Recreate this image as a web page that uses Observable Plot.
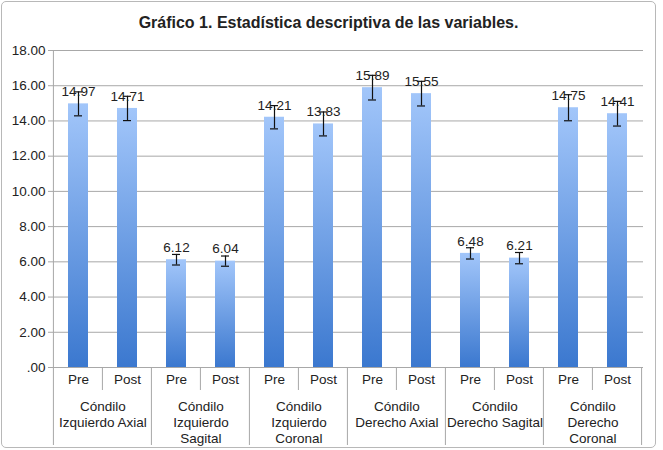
<!DOCTYPE html>
<html>
<head>
<meta charset="utf-8">
<script src="https://cdn.jsdelivr.net/npm/d3@7"></script>
<script src="https://cdn.jsdelivr.net/npm/@observablehq/plot@0.6"></script>
<style>
  body { margin: 0; background: #fff; font-family: "Liberation Sans", Arial, sans-serif; }
  #frame {
    position: absolute; left: 1px; top: 1px; width: 655px; height: 447px;
    box-sizing: border-box; border: 1px solid #b8b8b8; border-radius: 5px; background: #fff;
  }
  #title {
    height: 35px; line-height: 42px; text-align: center;
    font-weight: bold; font-size: 16px; color: #222;
  }
</style>
</head>
<body>
<div id="frame">
  <div id="title">Gráfico 1. Estadística descriptiva de las variables.</div>
  <div id="chart"></div>
</div>
<script>
// Variables (condyle measurements) and their two time points
const groups = [
  "Cóndilo\nIzquierdo Axial",
  "Cóndilo\nIzquierdo\nSagital",
  "Cóndilo\nIzquierdo\nCoronal",
  "Cóndilo\nDerecho Axial",
  "Cóndilo\nDerecho Sagital",
  "Cóndilo\nDerecho\nCoronal"
];
const phases = ["Pre", "Post"];
// Means, in group order, Pre then Post
const means = [14.97, 14.71, 6.12, 6.04, 14.21, 13.83, 15.89, 15.55, 6.48, 6.21, 14.75, 14.41];
// Half-length of the error bars
const errors = [0.68, 0.69, 0.30, 0.29, 0.66, 0.68, 0.70, 0.70, 0.32, 0.32, 0.74, 0.70];
const yTicks = [0, 2, 4, 6, 8, 10, 12, 14, 16, 18];

const data = [];
groups.forEach((g, gi) => phases.forEach((p, pi) => {
  const i = gi * 2 + pi;
  data.push({key: `${gi}-${p}`, group: g, phase: p, value: means[i], err: errors[i]});
}));
const keys = data.map(d => d.key);

const width = 653, height = 411;
const marginLeft = 51, marginRight = 12, marginTop = 13, marginBottom = 81;
const step = (width - marginLeft - marginRight) / keys.length;
const font = 13.5;

// Vertical gradient shared by every bar (light on top, darker at the base)
const defs = () => {
  const d = d3.create("svg:defs");
  const lg = d.append("linearGradient").attr("id", "barFill")
    .attr("x1", 0).attr("y1", 0).attr("x2", 0).attr("y2", 1);
  lg.append("stop").attr("offset", "0%").attr("stop-color", "#a2c6fa");
  lg.append("stop").attr("offset", "100%").attr("stop-color", "#3b78cf");
  return d.node();
};

// Category table below the plot: cell separators drawn from the x scale
const table = (index, scales, values, dims) => {
  const x = scales.x;
  const y0 = dims.height - dims.marginBottom;
  const g = d3.create("svg:g").attr("stroke", "#a8a8a8").attr("stroke-width", 1);
  keys.forEach((k, i) => {
    const left = x(k) + x.bandwidth() / 2 - step / 2;
    const isGroupEdge = i % 2 === 0;
    g.append("line")
      .attr("x1", left).attr("x2", left)
      .attr("y1", i === 0 ? dims.marginTop : y0)
      .attr("y2", isGroupEdge ? y0 + 78 : y0 + 23);
  });
  const last = x(keys[keys.length - 1]) + x.bandwidth() / 2 + step / 2;
  g.append("line").attr("x1", last).attr("x2", last).attr("y1", y0).attr("y2", y0 + 78);
  return g.node();
};

const chart = Plot.plot({
  width, height, marginLeft, marginRight, marginTop, marginBottom,
  style: {fontFamily: "'Liberation Sans', Arial, sans-serif", fontSize: font + "px", color: "#222", background: "transparent"},
  x: {domain: keys, paddingInner: 0.59, paddingOuter: 0.295, axis: null},
  y: {domain: [0, 18], ticks: yTicks, axis: null, label: null},
  marks: [
    defs,
    Plot.gridY(yTicks, {stroke: "#a8a8a8", strokeOpacity: 1}),
    Plot.axisY(yTicks, {tickSize: 5, tickPadding: 3, stroke: "#a8a8a8", fontSize: font, label: null,
      tickFormat: d => d === 0 ? ".00" : d.toFixed(2)}),
    table,
    Plot.barY(data, {x: "key", y: "value", fill: "url(#barFill)"}),
    Plot.ruleX(data, {x: "key", y1: d => d.value - d.err, y2: d => d.value + d.err, stroke: "#111", strokeWidth: 1.2}),
    Plot.tickY(data, {x: "key", y: d => d.value - d.err, stroke: "#111", strokeWidth: 1.2, insetLeft: 6, insetRight: 6}),
    Plot.tickY(data, {x: "key", y: d => d.value + d.err, stroke: "#111", strokeWidth: 1.2, insetLeft: 6, insetRight: 6}),
    Plot.text(data, {x: "key", y: "value", text: d => d.value.toFixed(2), dy: -12, fontSize: font, fill: "#222"}),
    Plot.text(data, {x: "key", text: "phase", frameAnchor: "bottom", dy: 16, fontSize: font, fill: "#222"}),
    Plot.text(data.filter(d => d.phase === "Post"), {
      x: "key", text: "group", frameAnchor: "bottom", lineAnchor: "top",
      dx: -step / 2, dy: 32, lineHeight: 1.2, fontSize: font, fill: "#222"
    })
  ]
});
document.getElementById("chart").appendChild(chart);
</script>
</body>
</html>
